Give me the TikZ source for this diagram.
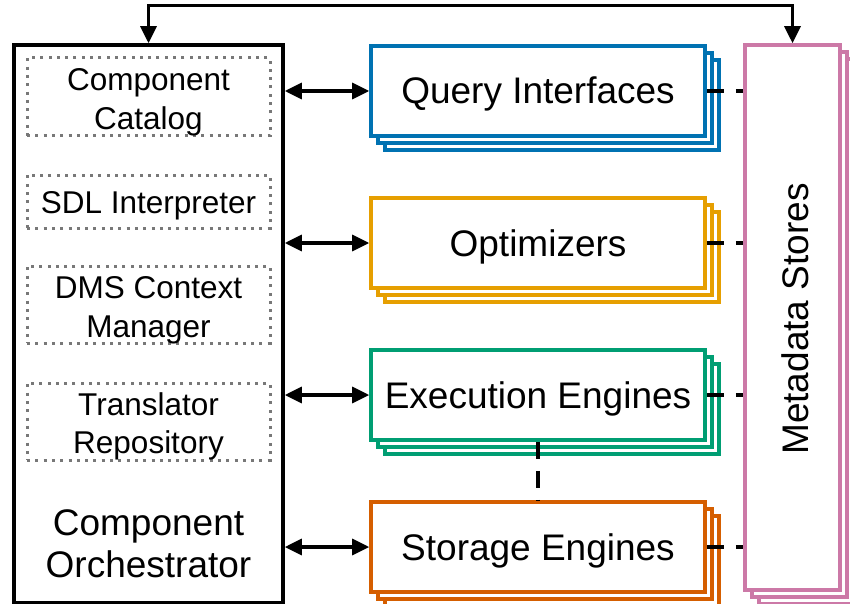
\documentclass[tikz,border=0pt]{standalone}
\usepackage{fontspec}
\setmainfont{Liberation Sans}
\usetikzlibrary{arrows.meta}
\definecolor{cblue}{RGB}{0,114,178}
\definecolor{corange}{RGB}{230,159,0}
\definecolor{cgreen}{RGB}{0,158,115}
\definecolor{cverm}{RGB}{213,94,0}
\definecolor{cpink}{RGB}{204,121,167}
\definecolor{cgray}{RGB}{120,120,120}
\tikzset{
  bigfont/.style={font=\fontsize{37}{44}\selectfont, inner sep=0pt, anchor=base},
  smallfont/.style={font=\fontsize{31.5}{38}\selectfont, inner sep=0pt, anchor=base},
  comp/.style={draw=#1, line width=3.6pt, fill=white, minimum width=334pt, minimum height=90pt, inner sep=0pt, rectangle},
  metabox/.style={draw=cpink, line width=3.6pt, fill=white, minimum width=95pt, minimum height=545pt, inner sep=0pt, rectangle},
  dotbox/.style={draw=cgray, line width=3pt, dash pattern=on 3pt off 5.3pt, minimum width=243pt, inner sep=0pt},
  arr/.style={line width=3.3pt, {Triangle[length=17pt,width=16pt]}-{Triangle[length=17pt,width=16pt]}},
  dashln/.style={line width=3.5pt, dash pattern=on 17pt off 12pt},
}
\begin{document}
\begin{tikzpicture}[x=1pt,y=-1pt]
\useasboundingbox (0,0) rectangle (850,604);
\begin{scope}
\clip (0,0) rectangle (850,604);
% stacked component boxes
\foreach \c/\y/\n/\t in {cblue/91/qi/Query Interfaces, corange/243/opt/Optimizers, cgreen/395/exe/Execution Engines, cverm/547/sto/Storage Engines}{
  \node[comp=\c] (\n3) at (552,\y+14) {};
  \node[comp=\c] (\n2) at (545,\y+7) {};
  \node[comp=\c] (\n) at (538,\y) {};
  \node[bigfont] (\n label) at (538,\y+13) {\t};
}
% metadata stores
\node[metabox] (meta3) at (806.5,331.5) {};
\node[metabox] (meta2) at (799.5,324.5) {};
\node[metabox] (meta) at (792.5,317.5) {};
\node[bigfont, rotate=90] (metalabel) at (808.5,319) {Metadata Stores};
\end{scope}
% orchestrator
\node[draw, line width=3.6pt, minimum width=269pt, minimum height=558pt, inner sep=0pt] (orch) at (148.5,324) {};
\node[dotbox, minimum height=78pt] (cat) at (148.5,97) {};
\node[dotbox, minimum height=53pt] (sdl) at (148.5,201.5) {};
\node[dotbox, minimum height=77pt] (dms) at (148.5,304.5) {};
\node[dotbox, minimum height=77pt] (tr) at (148.5,421.5) {};
\node[smallfont] (catA) at (148.5,91) {Component};
\node[smallfont] (catB) at (148.5,130) {Catalog};
\node[smallfont] (sdlA) at (148.5,213) {SDL Interpreter};
\node[smallfont] (dmsA) at (148.5,298) {DMS Context};
\node[smallfont] (dmsB) at (148.5,337) {Manager};
\node[smallfont] (trA) at (148.5,415) {Translator};
\node[smallfont] (trB) at (148.5,453) {Repository};
\node[bigfont] (orchA) at (148.5,535) {Component};
\node[bigfont] (orchB) at (148.5,577) {Orchestrator};
% arrows
\draw[arr] (orch.east |- qi.west) -- (qi.west);
\draw[arr] (orch.east |- opt.west) -- (opt.west);
\draw[arr] (orch.east |- exe.west) -- (exe.west);
\draw[arr] (orch.east |- sto.west) -- (sto.west);
\draw[arr] (orch.north) -- ++(0,-38) -| (meta.north);
% dashed links
\draw[dashln] (qi.east) -- (meta.west |- qi.east);
\draw[dashln] (opt.east) -- (meta.west |- opt.east);
\draw[dashln] (exe.east) -- (meta.west |- exe.east);
\draw[dashln] (sto.east) -- (meta.west |- sto.east);
\draw[dashln] (exe.south) -- (sto.north);
\end{tikzpicture}
\end{document}
